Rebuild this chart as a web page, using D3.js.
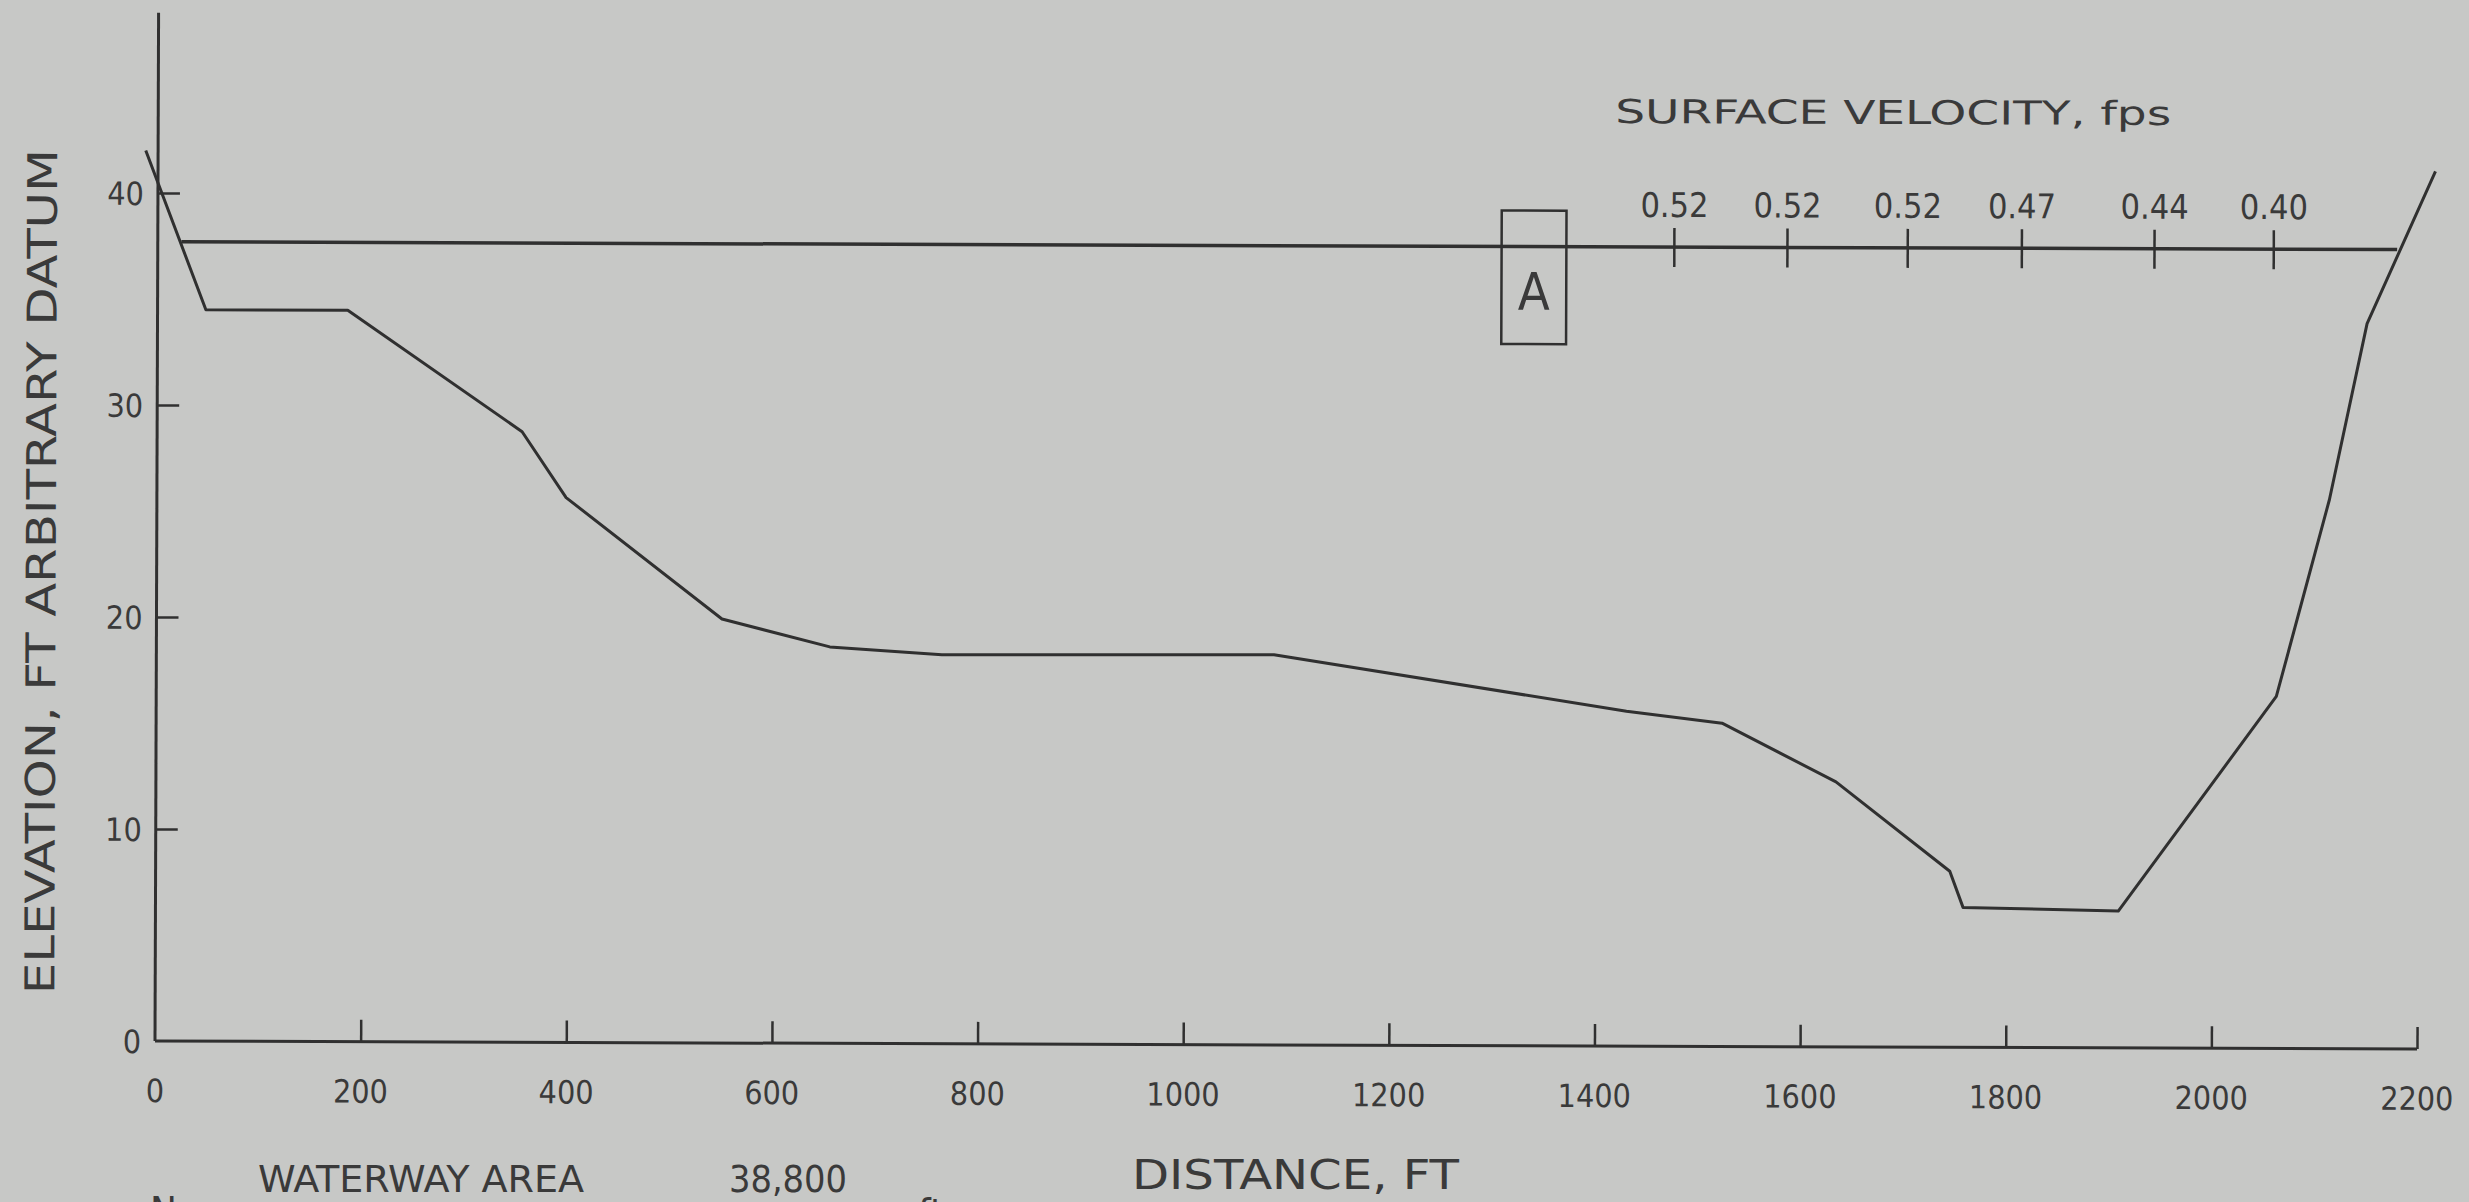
<!DOCTYPE html>
<html>
<head>
<meta charset="utf-8">
<script src="https://cdn.jsdelivr.net/npm/d3@7"></script>
<style>
  body { margin: 0; background: #c7c8c6; }
  svg { display: block; }
  text { font-family: 'DejaVu Sans Condensed', 'Liberation Sans Narrow', sans-serif; fill: #3a3a3a; }
</style>
</head>
<body>
<script>
  var w = 2469 //page width
  var h = 1202 //page height

  // DATA
  var groundDist = [-12, 47, 185, 355, 398, 550, 655, 764, 1087, 1430, 1523, 1634, 1745, 1758, 1909, 2062, 2113, 2149, 2215];
  var groundElev = [42.0, 34.5, 34.5, 28.8, 25.7, 20.0, 18.7, 18.35, 18.4, 15.8, 15.25, 12.5, 8.3, 6.6, 6.45, 16.6, 25.9, 34.2, 41.4];

  var waterDist = [23, 2178];
  var waterElev = 37.7;

  var velocityDist = [1475, 1585, 1702, 1813, 1942, 2058];
  var velocityLabels = ["0.52", "0.52", "0.52", "0.47", "0.44", "0.40"];

  var xTicks = [200, 400, 600, 800, 1000, 1200, 1400, 1600, 1800, 2000, 2200];
  var xTickLabels = ["0", "200", "400", "600", "800", "1000", "1200", "1400", "1600", "1800", "2000", "2200"];
  var yTicks = [10, 20, 30, 40];
  var yTickLabels = ["0", "10", "20", "30", "40"];
  var yAxisTop = 48.5; //top end of the drawn elevation axis

  var boxDist = [1307, 1370]; //annotation box "A"
  var boxElev = [33.1, 39.4];

  //SCALES
  var x = d3.scaleLinear().domain([0, 2200]).range([155, 2417]);
  var y = d3.scaleLinear().domain([0, 40]).range([1041, 193]);

  var ink = "#303030";

  var svg = d3.select("body")
      .append("svg")
      .attr("width", w)
      .attr("height", h);

  // the scan is a touch rotated
  var g = svg.append("g")
      .attr("transform", "rotate(0.2," + x(0) + "," + y(0) + ")");

  //AXES
  var xAxis = d3.axisBottom(x)
      .tickValues(xTicks)
      .tickSize(-22)
      .tickSizeOuter(0)
      .tickFormat("");

  var xg = g.append("g")
      .attr("transform", "translate(0," + y(0) + ")")
      .call(xAxis);
  xg.select(".domain").remove();
  xg.selectAll("line").attr("stroke", ink).attr("stroke-width", 2.5);

  g.append("g").selectAll("text")
      .data(xTickLabels)
      .enter()
      .append("text")
      .attr("x", function (d) { return x(+d); })
      .attr("y", y(0) + 61)
      .attr("text-anchor", "middle")
      .attr("font-size", "32px")
      .text(function (d) { return d; });

  var yAxis = d3.axisLeft(y)
      .tickValues(yTicks)
      .tickSize(-22)
      .tickSizeOuter(0)
      .tickFormat("");

  var yg = g.append("g")
      .attr("transform", "translate(" + x(0) + ",0)")
      .call(yAxis);
  yg.select(".domain").remove();
  yg.selectAll("line").attr("stroke", ink).attr("stroke-width", 2.5);

  g.append("g").selectAll("text")
      .data(yTickLabels)
      .enter()
      .append("text")
      .attr("x", x(0) - 14)
      .attr("y", function (d) { return y(+d) + 12; })
      .attr("text-anchor", "end")
      .attr("font-size", "32px")
      .text(function (d) { return d; });

  // axis lines
  g.append("line")
      .attr("x1", x(0)).attr("y1", y(0))
      .attr("x2", x(2200)).attr("y2", y(0))
      .attr("stroke", ink).attr("stroke-width", 3);
  g.append("line")
      .attr("x1", x(0)).attr("y1", y(0))
      .attr("x2", x(0)).attr("y2", y(yAxisTop))
      .attr("stroke", ink).attr("stroke-width", 3);

  //GROUND PROFILE
  var line = d3.line()
      .x(function (d) { return x(d[0]); })
      .y(function (d) { return y(d[1]); });

  g.append("path")
      .datum(d3.zip(groundDist, groundElev))
      .attr("d", line)
      .attr("fill", "none")
      .attr("stroke", ink)
      .attr("stroke-width", 3)
      .attr("stroke-linejoin", "round");

  //WATER SURFACE
  g.append("path")
      .datum(waterDist.map(function (d) { return [d, waterElev]; }))
      .attr("d", line)
      .attr("fill", "none")
      .attr("stroke", ink)
      .attr("stroke-width", 3.5);

  //VELOCITY STATIONS
  g.append("g").selectAll("line")
      .data(velocityDist)
      .enter()
      .append("line")
      .attr("x1", function (d) { return x(d); })
      .attr("x2", function (d) { return x(d); })
      .attr("y1", y(waterElev) - 19)
      .attr("y2", y(waterElev) + 20)
      .attr("stroke", ink)
      .attr("stroke-width", 2.5);

  g.append("g").selectAll("text")
      .data(velocityLabels)
      .enter()
      .append("text")
      .attr("x", function (d, i) { return x(velocityDist[i]); })
      .attr("y", y(waterElev) - 30)
      .attr("text-anchor", "middle")
      .attr("font-size", "34px")
      .text(function (d) { return d; });

  g.append("text")
      .attr("x", 1612)
      .attr("y", 118)
      .attr("font-size", "33px")
      .attr("textLength", 556)
      .attr("lengthAdjust", "spacingAndGlyphs")
      .text("SURFACE VELOCITY, fps");

  //BOX A
  g.append("rect")
      .attr("x", x(boxDist[0]))
      .attr("y", y(boxElev[1]))
      .attr("width", x(boxDist[1]) - x(boxDist[0]))
      .attr("height", y(boxElev[0]) - y(boxElev[1]))
      .attr("fill", "none")
      .attr("stroke", ink)
      .attr("stroke-width", 2.5);

  g.append("text")
      .attr("x", (x(boxDist[0]) + x(boxDist[1])) / 2)
      .attr("y", 305)
      .attr("text-anchor", "middle")
      .attr("font-size", "52px")
      .text("A");

  //AXIS TITLES
  g.append("text")
      .attr("transform", "translate(54,572) rotate(-90)")
      .attr("text-anchor", "middle")
      .attr("font-size", "41px")
      .attr("textLength", 845)
      .attr("lengthAdjust", "spacingAndGlyphs")
      .text("ELEVATION, FT ARBITRARY DATUM");

  svg.append("text")
      .attr("x", 1132)
      .attr("y", 1189)
      .attr("font-size", "40px")
      .attr("textLength", 327)
      .attr("lengthAdjust", "spacingAndGlyphs")
      .text("DISTANCE, FT");

  //FOOTNOTE (next line runs off the bottom edge, as in the scan)
  svg.append("text")
      .attr("x", 258)
      .attr("y", 1192)
      .attr("font-size", "37px")
      .attr("textLength", 326)
      .attr("lengthAdjust", "spacingAndGlyphs")
      .text("WATERWAY AREA");

  svg.append("text")
      .attr("x", 729)
      .attr("y", 1192)
      .attr("font-size", "37px")
      .attr("textLength", 118)
      .attr("lengthAdjust", "spacingAndGlyphs")
      .text("38,800");

  svg.append("text")
      .attr("x", 150)
      .attr("y", 1226)
      .attr("font-size", "40px")
      .text("N");

  svg.append("text")
      .attr("x", 918)
      .attr("y", 1228)
      .attr("font-size", "40px")
      .text("ft");
</script>
</body>
</html>
